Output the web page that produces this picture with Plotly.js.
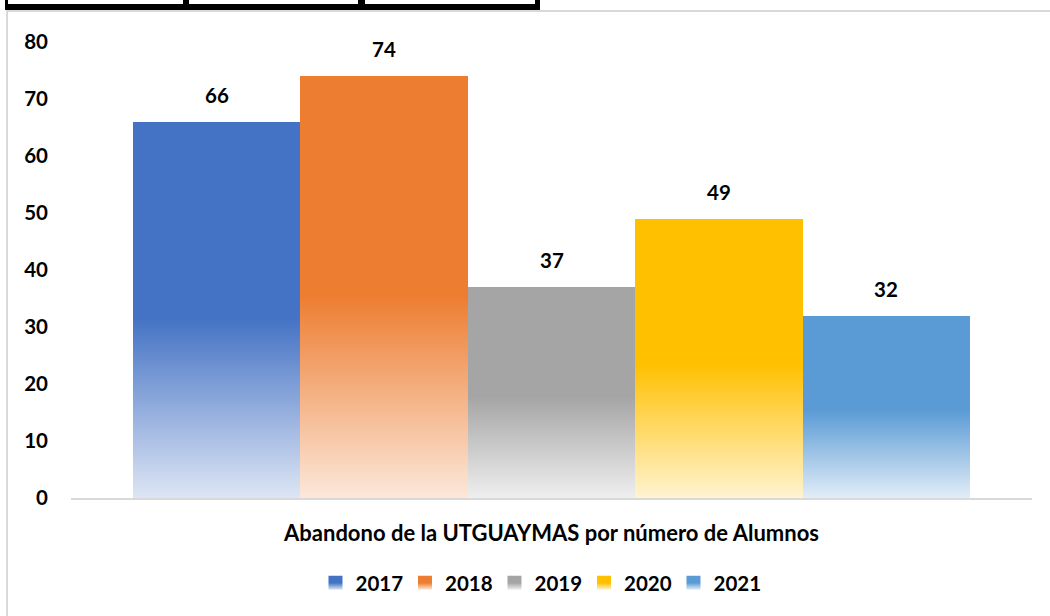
<!DOCTYPE html>
<html>
<head>
<meta charset="utf-8">
<script src="https://cdn.plot.ly/plotly-3.0.1.min.js"></script>
<style>
  html, body { margin: 0; padding: 0; background: #fff; }
  #wrap { position: relative; width: 1050px; height: 616px; overflow: hidden; }
  #chart { position: absolute; left: 0; top: 0; width: 1050px; height: 616px; }
  .deco { position: absolute; pointer-events: none; }
  .blk { position: absolute; background: #000; pointer-events: none; }
</style>
</head>
<body>
<div id="wrap">
  <div id="chart"></div>
  <!-- chart area border (light gray) -->
  <div class="deco" style="left:6px; top:10px; width:2px; height:606px; background:#d9d9d9;"></div>
  <div class="deco" style="left:6px; top:10px; width:1044px; height:2px; background:#d9d9d9;"></div>
  <!-- remnants of the table above (black cells) -->
  <div class="blk" style="left:5px; top:4px; width:535px; height:6px;"></div>
  <div class="blk" style="left:5px; top:0px; width:3px; height:10px;"></div>
  <div class="blk" style="left:183px; top:0px; width:6px; height:10px;"></div>
  <div class="blk" style="left:358px; top:0px; width:7px; height:10px;"></div>
  <div class="blk" style="left:535px; top:0px; width:5px; height:10px;"></div>
</div>
<script>
const years = ['2017', '2018', '2019', '2020', '2021'];
const values = [66, 74, 37, 49, 32];
const colors = ['#4472C4', '#ED7D31', '#A5A5A5', '#FFC000', '#5B9BD5'];
const yTicks = [0, 10, 20, 30, 40, 50, 60, 70, 80];
const xTitle = 'Abandono de la UTGUAYMAS por número de Alumnos';

const FONT = 'Lato, Calibri, Carlito, "Open Sans", sans-serif';
const NUM_SIZE = 20.5;

const traces = years.map((yr, i) => ({
  type: 'bar',
  name: yr,
  x: [yr],
  y: [values[i]],
  marker: { color: colors[i], line: { width: 0 } },
  hoverinfo: 'none'
}));

const annotations = years.map((yr, i) => ({
  x: i, y: values[i], xref: 'x', yref: 'y',
  text: String(values[i]),
  showarrow: false,
  xanchor: 'center',
  yanchor: 'middle',
  yshift: 27,
  font: { family: FONT, size: NUM_SIZE, color: '#000', weight: 'bold' }
}));

const layout = {
  width: 1050, height: 616,
  margin: { l: 71, r: 18, t: 42, b: 118 },
  paper_bgcolor: 'rgba(0,0,0,0)',
  plot_bgcolor: 'rgba(0,0,0,0)',
  barmode: 'group',
  bargap: 0,
  showlegend: true,
  font: { family: FONT, size: NUM_SIZE, color: '#000', weight: 'bold' },
  xaxis: {
    type: 'category',
    range: [-0.869, 4.869],
    showticklabels: false,
    ticks: '',
    showgrid: false,
    zeroline: false,
    showline: true,
    linecolor: '#d9d9d9',
    linewidth: 1.5,
    title: { text: xTitle, standoff: 27, font: { family: FONT, size: 22, color: '#000', weight: 'bold' } },
    fixedrange: true
  },
  yaxis: {
    range: [0, 80],
    tickvals: yTicks,
    ticktext: yTicks.map(String),
    showgrid: false,
    zeroline: false,
    showline: false,
    ticks: '',
    ticklabelstandoff: 22,
    tickfont: { family: FONT, size: NUM_SIZE, color: '#000', weight: 'bold' },
    fixedrange: true
  },
  legend: {
    orientation: 'h',
    x: 0.4875, xanchor: 'center',
    y: -0.186, yanchor: 'middle',
    font: { family: FONT, size: NUM_SIZE, color: '#000', weight: 'bold' },
    itemwidth: 30,
    entrywidth: 44.5,
    entrywidthmode: 'pixels',
    bgcolor: 'rgba(0,0,0,0)'
  },
  annotations: annotations
};

function applyGradients(gd) {
  const svg = gd.querySelector('svg.main-svg');
  if (!svg) return;
  let defs = svg.querySelector('defs#gradDefs');
  const ns = 'http://www.w3.org/2000/svg';
  if (!defs) {
    defs = document.createElementNS(ns, 'defs');
    defs.setAttribute('id', 'gradDefs');
    svg.insertBefore(defs, svg.firstChild);
    colors.forEach((c, i) => {
      const g = document.createElementNS(ns, 'linearGradient');
      g.setAttribute('id', 'barGrad' + i);
      g.setAttribute('x1', '0'); g.setAttribute('y1', '0');
      g.setAttribute('x2', '0'); g.setAttribute('y2', '1');
      [[0, 1], [0.52, 1], [1, 0.18]].forEach(([off, op]) => {
        const s = document.createElementNS(ns, 'stop');
        s.setAttribute('offset', off);
        s.setAttribute('stop-color', c);
        s.setAttribute('stop-opacity', op);
        g.appendChild(s);
      });
      defs.appendChild(g);
    });
  }
  const barTraces = gd.querySelectorAll('.barlayer .trace');
  barTraces.forEach((t, i) => {
    t.querySelectorAll('path').forEach(p => { p.style.fill = 'url(#barGrad' + i + ')'; });
  });
  const legTraces = gd.querySelectorAll('.legend .traces');
  legTraces.forEach((t, i) => {
    t.querySelectorAll('.legendpoints path').forEach(p => {
      p.setAttribute('d', 'M7,7H-7V-7H7Z');
      p.style.fill = 'url(#barGrad' + i + ')';
    });
  });
}

const gd = document.getElementById('chart');
Plotly.newPlot(gd, traces, layout, { displayModeBar: false, staticPlot: true }).then(() => {
  applyGradients(gd);
  gd.on('plotly_afterplot', () => applyGradients(gd));
});
</script>
</body>
</html>
